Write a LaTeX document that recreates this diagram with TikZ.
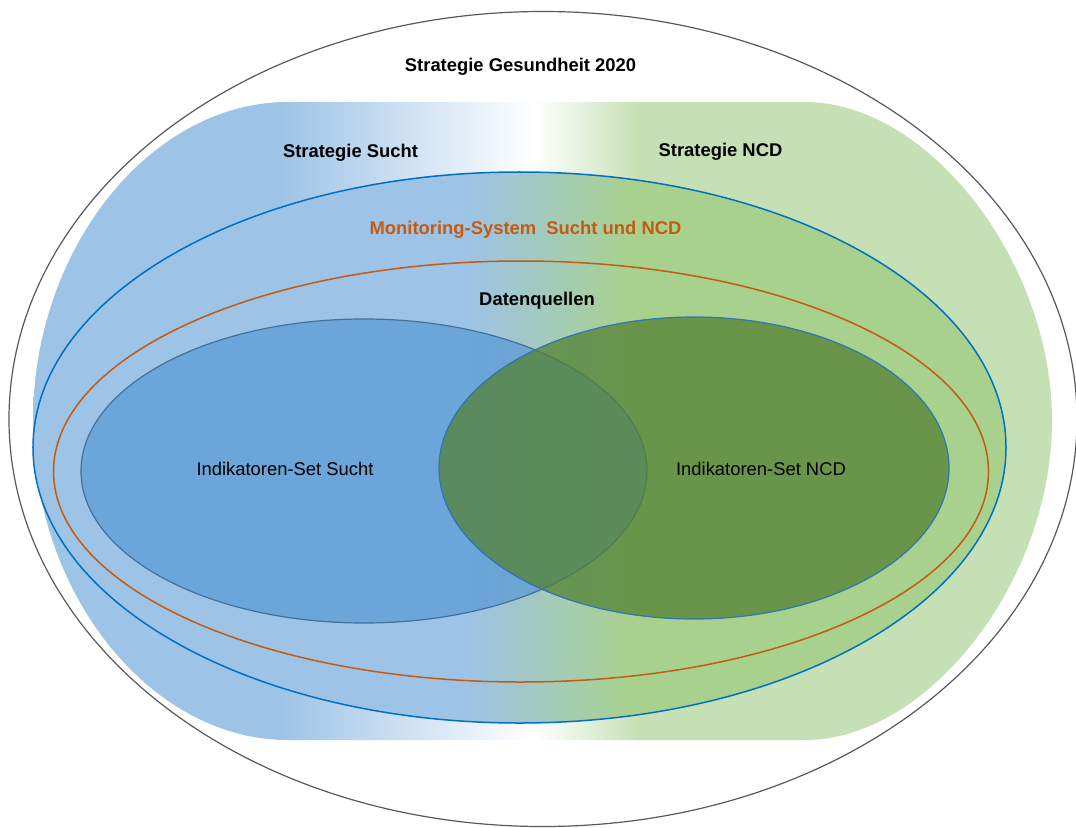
\documentclass[tikz,border=0pt]{standalone}
\usepackage{fontspec}
\setmainfont{Liberation Sans}
\definecolor{sblue}{HTML}{9DC3E6}
\definecolor{sgreen}{HTML}{C5E0B4}
\definecolor{mgreen}{HTML}{A9D18E}
\definecolor{mline}{HTML}{0070C0}
\definecolor{oline}{HTML}{C55A11}
\definecolor{iblue}{HTML}{5B9BD5}
\definecolor{igreen}{HTML}{548235}
\definecolor{iblueline}{HTML}{41719C}
\definecolor{igreenline}{HTML}{2E75B6}
\definecolor{outerline}{HTML}{595959}
\pgfdeclarehorizontalshading{stratshade}{100bp}{color(0bp)=(sblue); color(37.1bp)=(sblue); color(49.6bp)=(white); color(54.8bp)=(sgreen); color(100bp)=(sgreen)}
\pgfdeclarehorizontalshading{monshade}{100bp}{color(0bp)=(sblue); color(47.3bp)=(sblue); color(55.7bp)=(mgreen); color(100bp)=(mgreen)}
\begin{document}
\begin{tikzpicture}[x=1bp,y=-1bp,
  lbl/.style={anchor=base,inner sep=0pt,font=\fontsize{18.4bp}{22bp}\selectfont},
  blbl/.style={lbl,font=\fontsize{18.4bp}{22bp}\selectfont\bfseries}]
\useasboundingbox (0,0) rectangle (1076,828);
% outer ellipse
\draw[outerline,line width=1.2bp,fill=white] (543,419) ellipse [x radius=534bp,y radius=407.5bp];
% strategy shape with gradient
\path[shading=stratshade]
  (288,102) -- (805,102)
  .. controls (928.5,102) and (1052,261.5) .. (1052,421)
  .. controls (1052,580.5) and (928.5,740) .. (805,740)
  -- (288,740)
  .. controls (150.3,740) and (33,593.3) .. (33,421)
  .. controls (33,248.7) and (150.3,102) .. (288,102) -- cycle;
% monitoring ellipse
\path[shading=monshade] (519.5,447.5) ellipse [x radius=486.5bp,y radius=275.5bp];
\draw[mline,line width=1.5bp] (519.5,447.5) ellipse [x radius=486.5bp,y radius=275.5bp];
% data sources ellipse
\draw[oline,line width=1.5bp] (521,471.5) ellipse [x radius=467.5bp,y radius=210.5bp];
% indicator sets
\draw[iblueline,line width=1.2bp,fill=iblue,fill opacity=0.75] (364,471) ellipse [x radius=283bp,y radius=152bp];
\draw[igreenline,line width=1.2bp,fill=igreen,fill opacity=0.75] (694,468) ellipse [x radius=255bp,y radius=151bp];
% labels
\node[blbl] (gesund) at (520.5,71) {Strategie Gesundheit 2020};
\node[blbl] (sucht) at (350.5,157) {Strategie Sucht};
\node[blbl] (ncd) at (720.5,156.5) {Strategie NCD};
\node[blbl,text=oline] (mon) at (525.5,234) {Monitoring-System\ \ Sucht und NCD};
\node[blbl] (daten) at (537,305) {Datenquellen};
\node[lbl] (isucht) at (285,475) {Indikatoren-Set Sucht};
\node[lbl] (incd) at (761,475) {Indikatoren-Set NCD};
\end{tikzpicture}
\end{document}
